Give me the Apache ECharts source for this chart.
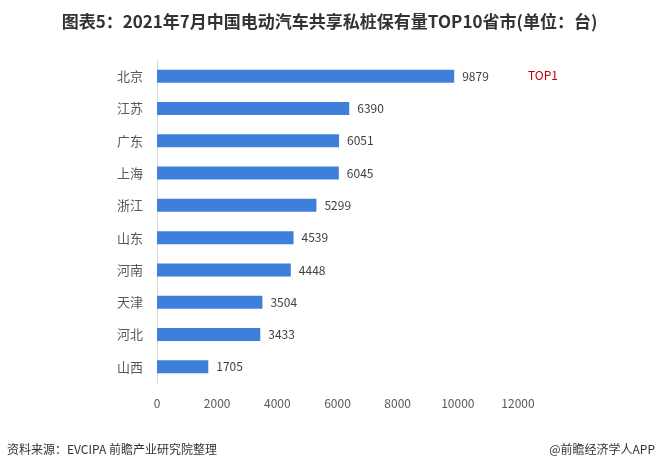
<!DOCTYPE html>
<html>
<head>
<meta charset="utf-8">
<script src="https://cdn.jsdelivr.net/npm/echarts@6/dist/echarts.min.js"></script>
<style>
  html, body { margin: 0; padding: 0; background: #fff; }
  #chart { width: 659px; height: 472px; }
</style>
</head>
<body>
<div id="chart"></div>
<script>
// 省市（从上到下）
const provinces = ['北京', '江苏', '广东', '上海', '浙江', '山东', '河南', '天津', '河北', '山西']
// 私桩保有量（台）
const values = [9879, 6390, 6051, 6045, 5299, 4539, 4448, 3504, 3433, 1705]
const xTicks = [0, 2000, 4000, 6000, 8000, 10000, 12000]

const chart = echarts.init(document.getElementById('chart'))
const font = '"Microsoft YaHei", "Noto Sans CJK SC", sans-serif'

const option = {
  backgroundColor: '#fff',
  animation: false,
  title: {
    text: '图表5：2021年7月中国电动汽车共享私桩保有量TOP10省市(单位：台)',
    left: 'center',
    top: 8,
    textStyle: { fontSize: 17, fontWeight: 'bold', color: '#333', fontFamily: font }
  },
  grid: { left: 157, right: 141, top: 60, bottom: 89 },
  xAxis: {
    type: 'value',
    min: xTicks[0],
    max: xTicks[xTicks.length - 1],
    interval: 2000,
    axisLine: { show: false },
    axisTick: { show: false },
    splitLine: { show: false },
    axisLabel: {
      color: '#595959',
      fontSize: 12,
      margin: 14,
      fontFamily: font,
      formatter: v => String(v)
    }
  },
  yAxis: {
    type: 'category',
    inverse: true,
    data: provinces,
    axisLine: { show: true, lineStyle: { color: '#d9d9d9' } },
    axisTick: { show: false },
    axisLabel: { color: '#595959', fontSize: 13, margin: 14, fontFamily: font }
  },
  series: [
    {
      type: 'bar',
      data: values,
      barWidth: 13,
      itemStyle: { color: '#3f7fdc' },
      label: {
        show: true,
        position: 'right',
        distance: 8,
        color: '#404040',
        fontSize: 12,
        fontFamily: font
      }
    }
  ],
  graphic: [
    {
      type: 'text',
      left: 528,
      top: 69,
      style: { text: 'TOP1', fill: '#c00000', fontSize: 12, fontFamily: font }
    },
    {
      type: 'text',
      left: 7,
      top: 443,
      style: { text: '资料来源：EVCIPA 前瞻产业研究院整理', fill: '#333', fontSize: 12, fontFamily: font }
    },
    {
      type: 'text',
      right: 4,
      top: 443,
      style: { text: '@前瞻经济学人APP', fill: '#333', fontSize: 12, fontFamily: font }
    }
  ]
}
chart.setOption(option)
</script>
</body>
</html>
